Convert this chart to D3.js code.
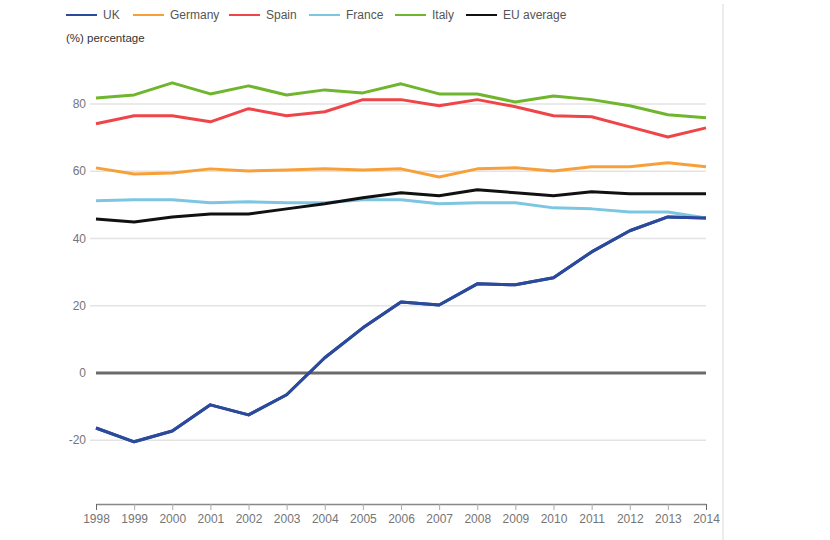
<!DOCTYPE html>
<html><head><meta charset="utf-8">
<script src="https://cdn.jsdelivr.net/npm/d3@7"></script>
<style>body{margin:0;background:#fff;font-family:"Liberation Sans",Arial,sans-serif;}</style>
</head><body><svg id="c" width="830" height="540"></svg>
<script>
const years = [1998,1999,2000,2001,2002,2003,2004,2005,2006,2007,2008,2009,2010,2011,2012,2013,2014];
const uk      = [-16.4,-20.5,-17.3,-9.5,-12.5,-6.5,4.5,13.4,21.1,20.2,26.5,26.2,28.3,36.0,42.3,46.4,46.1];
const germany = [61.0,59.2,59.5,60.7,60.1,60.4,60.7,60.4,60.7,58.3,60.7,61.0,60.1,61.3,61.3,62.5,61.3];
const spain   = [74.1,76.5,76.5,74.7,78.6,76.5,77.7,81.3,81.3,79.5,81.3,79.2,76.5,76.2,73.2,70.2,72.9];
const france  = [51.2,51.5,51.5,50.6,50.9,50.6,50.6,51.5,51.5,50.3,50.6,50.6,49.1,48.8,47.9,47.9,46.1];
const italy   = [81.8,82.7,86.3,83.0,85.4,82.7,84.2,83.3,86.0,83.0,83.0,80.6,82.4,81.3,79.5,76.8,75.9];
const euAvg   = [45.8,44.9,46.4,47.3,47.3,48.8,50.3,52.1,53.6,52.7,54.5,53.6,52.7,53.9,53.3,53.3,53.3];
const seriesNames = ["UK","Germany","Spain","France","Italy","EU average"];
const seriesColors = ["#2c4a9c","#f7a03a","#ef4548","#7cc6e2","#70b52e","#111111"];
const seriesValues = [uk,germany,spain,france,italy,euAvg];
const yTicks = [-20,0,20,40,60,80];
const yLabel = "(%) percentage";

const svg = d3.select("#c");
const x = d3.scaleLinear().domain([1998,2014]).range([96,706]);
const y = d3.scaleLinear().domain([-39,80]).range([504,104]);

// vertical separator at right
svg.append("line").attr("x1",723).attr("x2",723).attr("y1",4).attr("y2",540)
  .attr("stroke","#ececec").attr("stroke-width",2);

// gridlines
svg.append("g").selectAll("line").data(yTicks.filter(d=>d!==0)).join("line")
  .attr("x1",90).attr("x2",706).attr("y1",d=>y(d)).attr("y2",d=>y(d))
  .attr("stroke","#e3e3e3").attr("stroke-width",1.5);

// y labels
svg.append("g").selectAll("text").data(yTicks).join("text")
  .attr("x",86).attr("y",d=>y(d)).attr("dy","0.35em").attr("text-anchor","end")
  .attr("font-size",12).attr("fill","#757575").text(d=>d);

// x axis
const xAxis = d3.axisBottom(x).tickValues(years).tickFormat(d3.format("d")).tickSize(6).tickSizeOuter(0);
const gx = svg.append("g").attr("transform","translate(0,504)").call(xAxis);
gx.select(".domain").attr("stroke","#888").attr("stroke-width",1.5);
gx.selectAll(".tick line").attr("stroke","#aaa").attr("stroke-width",1);
gx.selectAll(".tick text").attr("font-size",12).attr("fill","#757575").attr("font-family","Liberation Sans, Arial, sans-serif").attr("dy","0.8em");
gx.selectAll(".tick").filter(d=>d===2014||d===1998).select("line").attr("stroke","#666");

// zero line
svg.append("line").attr("x1",x(1998)).attr("x2",x(2014)).attr("y1",y(0)).attr("y2",y(0))
  .attr("stroke","#6b6b6b").attr("stroke-width",3);

// lines
const line = d3.line().x((d,i)=>x(years[i])).y(d=>y(d));
seriesValues.forEach((vals,k)=>{
  svg.append("path").datum(vals).attr("d",line).attr("fill","none")
    .attr("stroke",seriesColors[k]).attr("stroke-width",3).attr("stroke-linejoin","round");
});
svg.append("path").datum(uk).attr("d",line).attr("fill","none")
  .attr("stroke",seriesColors[0]).attr("stroke-width",3).attr("stroke-linejoin","round");

// legend
const legX = [66,133,229,309,395,466];
const lg = svg.append("g");
seriesNames.forEach((n,k)=>{
  lg.append("line").attr("x1",legX[k]).attr("x2",legX[k]+31).attr("y1",15).attr("y2",15)
    .attr("stroke",seriesColors[k]).attr("stroke-width",2);
  lg.append("text").attr("x",legX[k]+37).attr("y",15).attr("dy","0.35em")
    .attr("font-size",12).attr("fill","#555").text(n);
});
svg.append("text").attr("x",66).attr("y",38).attr("dy","0.35em").attr("font-size",11.5)
  .attr("fill","#333").text(yLabel);
</script></body></html>
